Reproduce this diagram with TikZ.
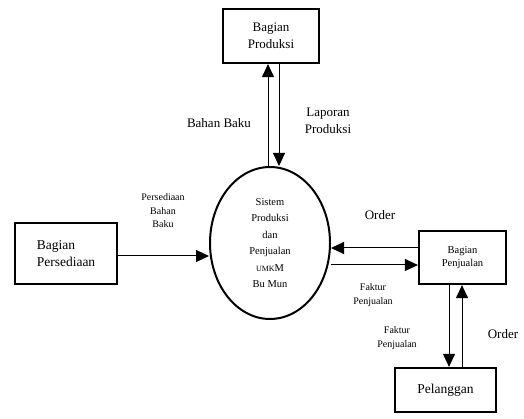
\documentclass[tikz,border=0pt]{standalone}
\usepackage{fontspec}
\setmainfont{Liberation Serif}
\usetikzlibrary{shapes.geometric,arrows.meta}
\begin{document}
\begin{tikzpicture}[x=1pt,y=-1pt,
  ent/.style={draw,line width=2.2pt,inner sep=0pt,align=center},
  arr/.style={line width=1pt,-{Triangle[length=13pt,width=12pt]}},
  lbl/.style={font=\fontsize{13}{17}\selectfont,align=center,inner sep=0pt},
  slbl/.style={font=\fontsize{10}{13.5}\selectfont,align=center,inner sep=0pt}]
\useasboundingbox (0,0) rectangle (524,419);
\node[ent,minimum width=96pt,minimum height=54pt,font=\fontsize{13}{17}\selectfont] (prod) at (271,36) {Bagian\\Produksi};
\node[ent,minimum width=102pt,minimum height=61pt,font=\fontsize{13.5}{17}\selectfont,align=left] (pers) at (66,253.5) {Bagian\\Persediaan};
\node[ent,minimum width=87pt,minimum height=53pt,font=\fontsize{10.5}{13}\selectfont] (pj) at (462.5,257.5) {Bagian\\Penjualan};
\node[ent,minimum width=101pt,minimum height=44pt,font=\fontsize{13.5}{17}\selectfont] (pel) at (445.5,390) {Pelanggan};
\node[ellipse,draw,line width=2pt,minimum width=120pt,minimum height=152pt,inner sep=0pt,align=center,font=\fontsize{10.5}{16.5}\selectfont] (ell) at (270,243) {Sistem\\Produksi\\dan\\Penjualan\\{\fontsize{8}{16.5}\selectfont UMK}M\\Bu Mun};
% flows
\draw[arr] (268,0 |- ell.north) -- (268,0 |- prod.south);
\draw[arr] (279,0 |- prod.south) -- (279,0 |- ell.north);
\draw[arr] (pers.east |- 0,256) -- (ell.west |- 0,256);
\draw[arr] (pj.west |- 0,248) -- (ell.east |- 0,248);
\draw[arr] (ell.east |- 0,265) -- (pj.west |- 0,265);
\draw[arr] (449,0 |- pj.south) -- (449,0 |- pel.north);
\draw[arr] (462,0 |- pel.north) -- (462,0 |- pj.south);
% labels
\node[lbl] (lbb) at (219,123) {Bahan Baku};
\node[lbl] (llp) at (328,121) {Laporan\\Produksi};
\node[slbl] (lpbb) at (163,211) {Persediaan\\Bahan\\Baku};
\node[lbl] (lor1) at (380,215) {Order};
\node[slbl] (lfp1) at (373,295) {Faktur\\Penjualan};
\node[slbl] (lfp2) at (397,338) {Faktur\\Penjualan};
\node[lbl] (lor2) at (503,334) {Order};
\end{tikzpicture}
\end{document}
